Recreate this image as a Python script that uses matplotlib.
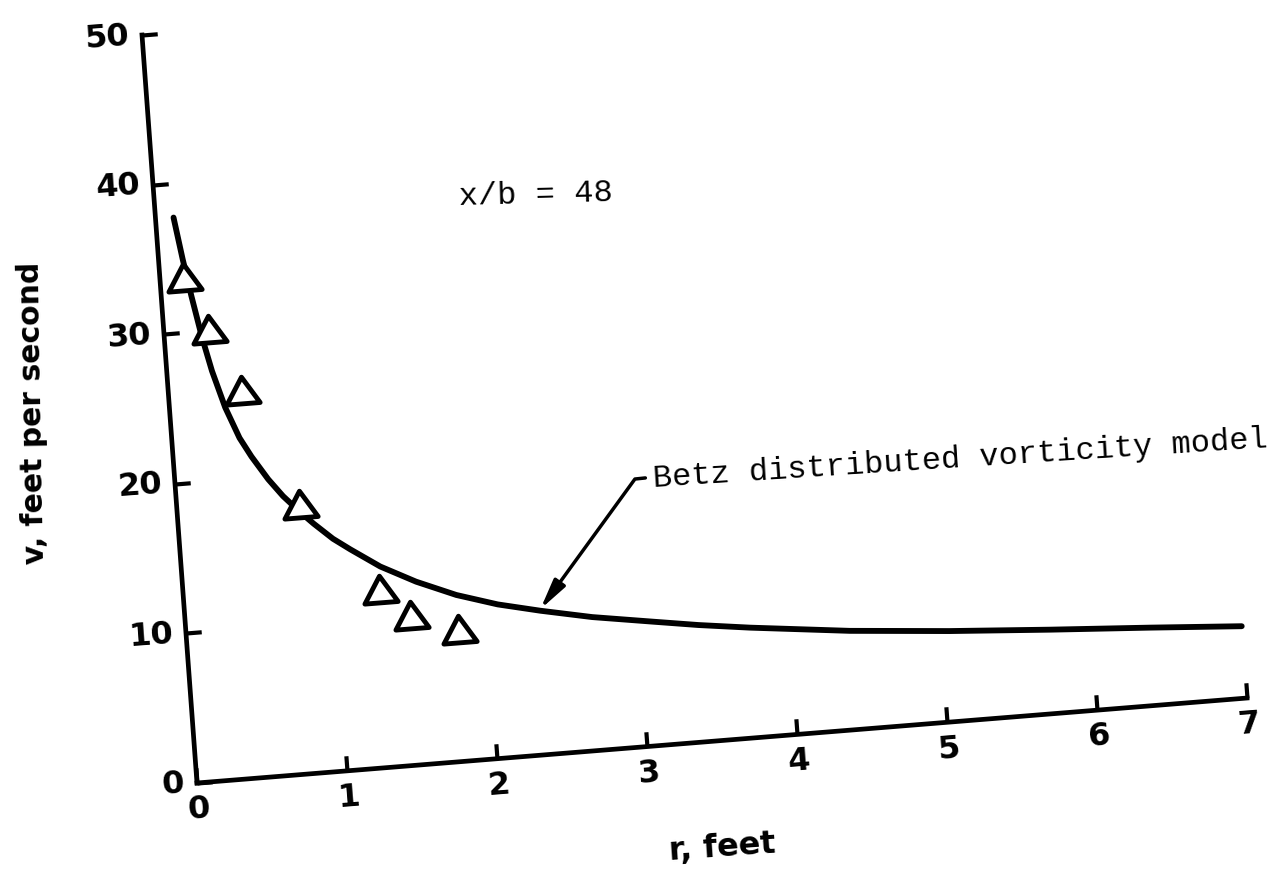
import numpy as np
import matplotlib
matplotlib.use("Agg")
import matplotlib.pyplot as plt
from matplotlib.transforms import Affine2D
from matplotlib.markers import MarkerStyle
from matplotlib.path import Path
from mpl_toolkits.axisartist import floating_axes
from mpl_toolkits.axisartist.grid_finder import FixedLocator, DictFormatter

# measured tangential velocity (triangles)
r_meas = [0.16, 0.30, 0.49, 0.82, 1.31, 1.50, 1.81]
v_meas = [33.7, 30.1, 25.9, 18.0, 11.9, 10.0, 8.8]

# Betz distributed vorticity model
r_betz = [0.12, 0.16, 0.20, 0.25, 0.30, 0.37, 0.45, 0.52, 0.62, 0.71, 0.82,
          0.90, 1.02, 1.13, 1.32, 1.55, 1.81, 2.08, 2.36, 2.70, 3.08, 3.40,
          3.74, 4.40, 5.06, 5.73, 6.39, 7.0]
v_betz = [37.7, 34.9, 32.4, 29.6, 27.3, 24.8, 22.7, 21.4, 19.8, 18.6, 17.4,
          16.6, 15.5, 14.7, 13.4, 12.2, 11.1, 10.25, 9.6, 8.9, 8.3, 7.8,
          7.35, 6.6, 6.05, 5.6, 5.2, 4.8]

x_ticks = [0, 1, 2, 3, 4, 5, 6, 7]
y_ticks = [0, 10, 20, 30, 40, 50]

# the original scan is tilted, so (r, v) -> pixel offset from the origin
skew = Affine2D(np.array([[150.0, -1.1, 0.0],
                          [12.14, 14.96, 0.0],
                          [0.0, 0.0, 1.0]]))

fig = plt.figure(figsize=(12.77, 8.89), dpi=100)
helper = floating_axes.GridHelperCurveLinear(
    skew, extremes=(0, 7, 0, 50),
    grid_locator1=FixedLocator(x_ticks),
    grid_locator2=FixedLocator(y_ticks),
    tick_formatter1=DictFormatter({t: str(t) for t in x_ticks}),
    tick_formatter2=DictFormatter({t: str(t) for t in y_ticks}))
ax = fig.add_axes([0, 0, 1, 1], axes_class=floating_axes.FloatingAxes,
                  grid_helper=helper)
ax.set_aspect("auto")

for name in ["top", "right"]:
    ax.axis[name].set_visible(False)
for name in ["bottom", "left"]:
    a = ax.axis[name]
    a.line.set_linewidth(3.4)
    a.major_ticks.set_ticksize(11)
    a.major_ticks.set_markeredgewidth(3)
    a.major_ticklabels.set_fontsize(23)
    a.major_ticklabels.set_fontweight("bold")
    a.major_ticklabels.set_pad(9)

aux = ax.get_aux_axes(skew)
aux.plot(r_betz, v_betz, color="black", lw=4.2, solid_capstyle="round",
         solid_joinstyle="round", zorder=2)

tri_path = Path([(0, 0.8), (-1, -0.8), (1, -0.8), (0, 0)],
                [Path.MOVETO, Path.LINETO, Path.LINETO, Path.CLOSEPOLY])
tri = MarkerStyle(tri_path, transform=Affine2D().rotate_deg(4.5))
aux.plot(r_meas, v_meas, linestyle="none", marker=tri, markersize=24,
         mfc="white", mec="black", mew=3.5, zorder=3)

aux.text(2.02, 37.0, "x/b = 48", family="Liberation Mono", fontsize=23,
         rotation=1.5, rotation_mode="anchor", ha="left", va="baseline")
aux.text(3.17, 17.2, "Betz distributed vorticity model", family="Liberation Mono",
         fontsize=23, rotation=3.7, rotation_mode="anchor", ha="left", va="baseline")
aux.annotate("", xy=(2.36, 9.7), xytext=(3.12, 17.86),
             arrowprops=dict(arrowstyle="-|>,head_length=0.9,head_width=0.2",
                             connectionstyle="angle,angleA=6,angleB=54",
                             lw=2.5, color="black", shrinkA=0, shrinkB=0,
                             mutation_scale=20))

aux.text(3.45, -7.1, "r, feet", fontsize=23, fontweight="bold", rotation=4,
         rotation_mode="anchor", ha="center", va="center")
aux.text(-0.91, 25.5, "v, feet per second", fontsize=21.5, fontweight="bold",
         rotation=91, rotation_mode="anchor", ha="center", va="center")

# host units = pixels, origin of the chart at (197, 783) from the top-left
ax.set_xlim(-197, 1277 - 197)
ax.set_ylim(783 - 889, 783)

fig.savefig("out.png", dpi=100, facecolor="white")
